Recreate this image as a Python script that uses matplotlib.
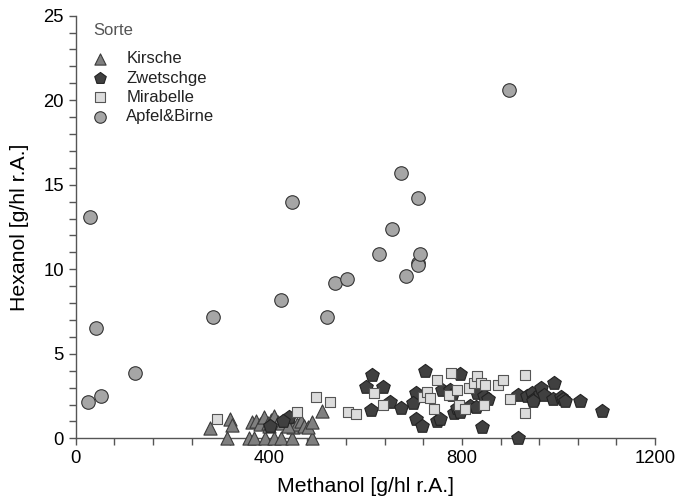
import matplotlib
matplotlib.use('Agg')
import matplotlib.pyplot as plt
from matplotlib.ticker import MultipleLocator

plt.rcParams['font.family'] = ['Liberation Sans', 'DejaVu Sans']

# Methanol / Hexanol per Sorte
kirsche_x = [279, 320, 324, 313, 358, 369, 393, 410, 425, 447, 489,
             366, 373, 382, 390, 398, 405, 411, 418, 427, 435, 451,
             458, 466, 472, 481, 490, 511, 400, 440]
kirsche_y = [0.6, 1.12, 0.8, 0, 0, 0, 0, 0, 0, 0, 0,
             0.95, 1.0, 0.85, 1.25, 0.9, 1.1, 1.3, 0.95, 0.9, 1.1, 0.65,
             0.85, 1.0, 0.75, 0.65, 0.95, 1.6, 0.7, 0.75]

zwetschge_x = [442, 613, 601, 611, 637, 652, 673, 724, 705, 699, 704, 717,
               748, 755, 758, 775, 779, 784, 790, 796, 796, 817, 831, 845,
               855, 829, 842, 917, 917, 934, 945, 950, 962, 947, 963, 969,
               991, 988, 1005, 1010, 1013, 1045, 1090, 430, 403]
zwetschge_y = [1.28, 3.75, 3.05, 1.67, 3.05, 2.17, 1.77, 3.96, 2.66, 2.07, 1.12, 0.73,
               1.0, 1.12, 2.86, 2.86, 2.56, 1.5, 1.8, 1.55, 3.8, 1.9, 2.66, 2.5,
               2.3, 1.87, 0.69, 0, 2.56, 2.5, 2.66, 2.3, 2.6, 2.2, 2.96, 2.56,
               3.25, 2.3, 2.45, 2.35, 2.2, 2.22, 1.63, 1.0, 0.75]

mirabelle_x = [293, 458, 498, 527, 563, 580, 617, 637, 720, 727, 734, 742,
               748, 774, 777, 790, 793, 806, 815, 824, 832, 840, 848, 846,
               875, 885, 899, 930, 930]
mirabelle_y = [1.14, 1.54, 2.46, 2.15, 1.54, 1.46, 2.66, 1.97, 2.45, 2.76, 2.36, 1.75,
               3.45, 2.56, 3.85, 2.86, 2.0, 1.75, 2.96, 3.3, 3.7, 3.3, 3.15, 1.97,
               3.15, 3.45, 2.34, 3.75, 1.48]

apfel_x = [25, 30, 43, 52, 123, 285, 425, 447, 520, 538, 561, 629, 655,
           674, 684, 710, 709, 709, 713, 898]
apfel_y = [2.15, 13.1, 6.5, 2.5, 3.85, 7.15, 8.2, 14.0, 7.2, 9.2, 9.4, 10.9, 12.4,
           15.7, 9.6, 14.2, 10.4, 10.25, 10.9, 20.6]

fig = plt.figure(figsize=(6.79, 5.01), dpi=100)
ax = fig.add_axes([0.1115, 0.1251, 0.8532, 0.8436])

ax.scatter(kirsche_x, kirsche_y, marker='^', s=90, c='#7f7f7f',
           edgecolors='#3a3a3a', linewidths=0.8, label='Kirsche', clip_on=False, zorder=3)
ax.scatter(zwetschge_x, zwetschge_y, marker='p', s=105, c='#404040',
           edgecolors='#222222', linewidths=0.8, label='Zwetschge', clip_on=False, zorder=3)
ax.scatter(mirabelle_x, mirabelle_y, marker='s', s=62, c='#dcdcdc',
           edgecolors='#555555', linewidths=0.8, label='Mirabelle', clip_on=False, zorder=3)
ax.scatter(apfel_x, apfel_y, marker='o', s=95, c='#a6a6a6',
           edgecolors='#333333', linewidths=0.8, label='Apfel&Birne', clip_on=False, zorder=3)

ax.set_xlim(0, 1200)
ax.set_ylim(0, 25)
ax.xaxis.set_major_locator(MultipleLocator(400))
ax.xaxis.set_minor_locator(MultipleLocator(80))
ax.yaxis.set_major_locator(MultipleLocator(5))
ax.yaxis.set_minor_locator(MultipleLocator(1))

for side in ['top', 'right']:
    ax.spines[side].set_visible(False)
for side in ['left', 'bottom']:
    ax.spines[side].set_color('#555555')
    ax.spines[side].set_linewidth(1.0)
ax.tick_params(which='both', direction='out', length=5, width=1.0, color='#555555',
               labelsize=13.3, labelcolor='black')

ax.set_xlabel('Methanol [g/hl r.A.]', fontsize=15.3, labelpad=7)
ax.set_ylabel('Hexanol [g/hl r.A.]', fontsize=15.3, labelpad=10)

leg = ax.legend(title='Sorte', loc='upper left', frameon=False, borderpad=0,
                borderaxespad=0,
                bbox_to_anchor=((93 - 75.7) / 579.3, 1 - (23 - 15.7) / 422.6),
                fontsize=12, title_fontsize=12, markerscale=0.85,
                handlelength=0.8, handletextpad=1.2, labelspacing=0.26,
                alignment='left')
leg._legend_box.sep = 9.5  # extra gap under the title
leg.get_title().set_color('#555555')
for t in leg.get_texts():
    t.set_color('#222222')

fig.savefig('out.png', dpi=100)
